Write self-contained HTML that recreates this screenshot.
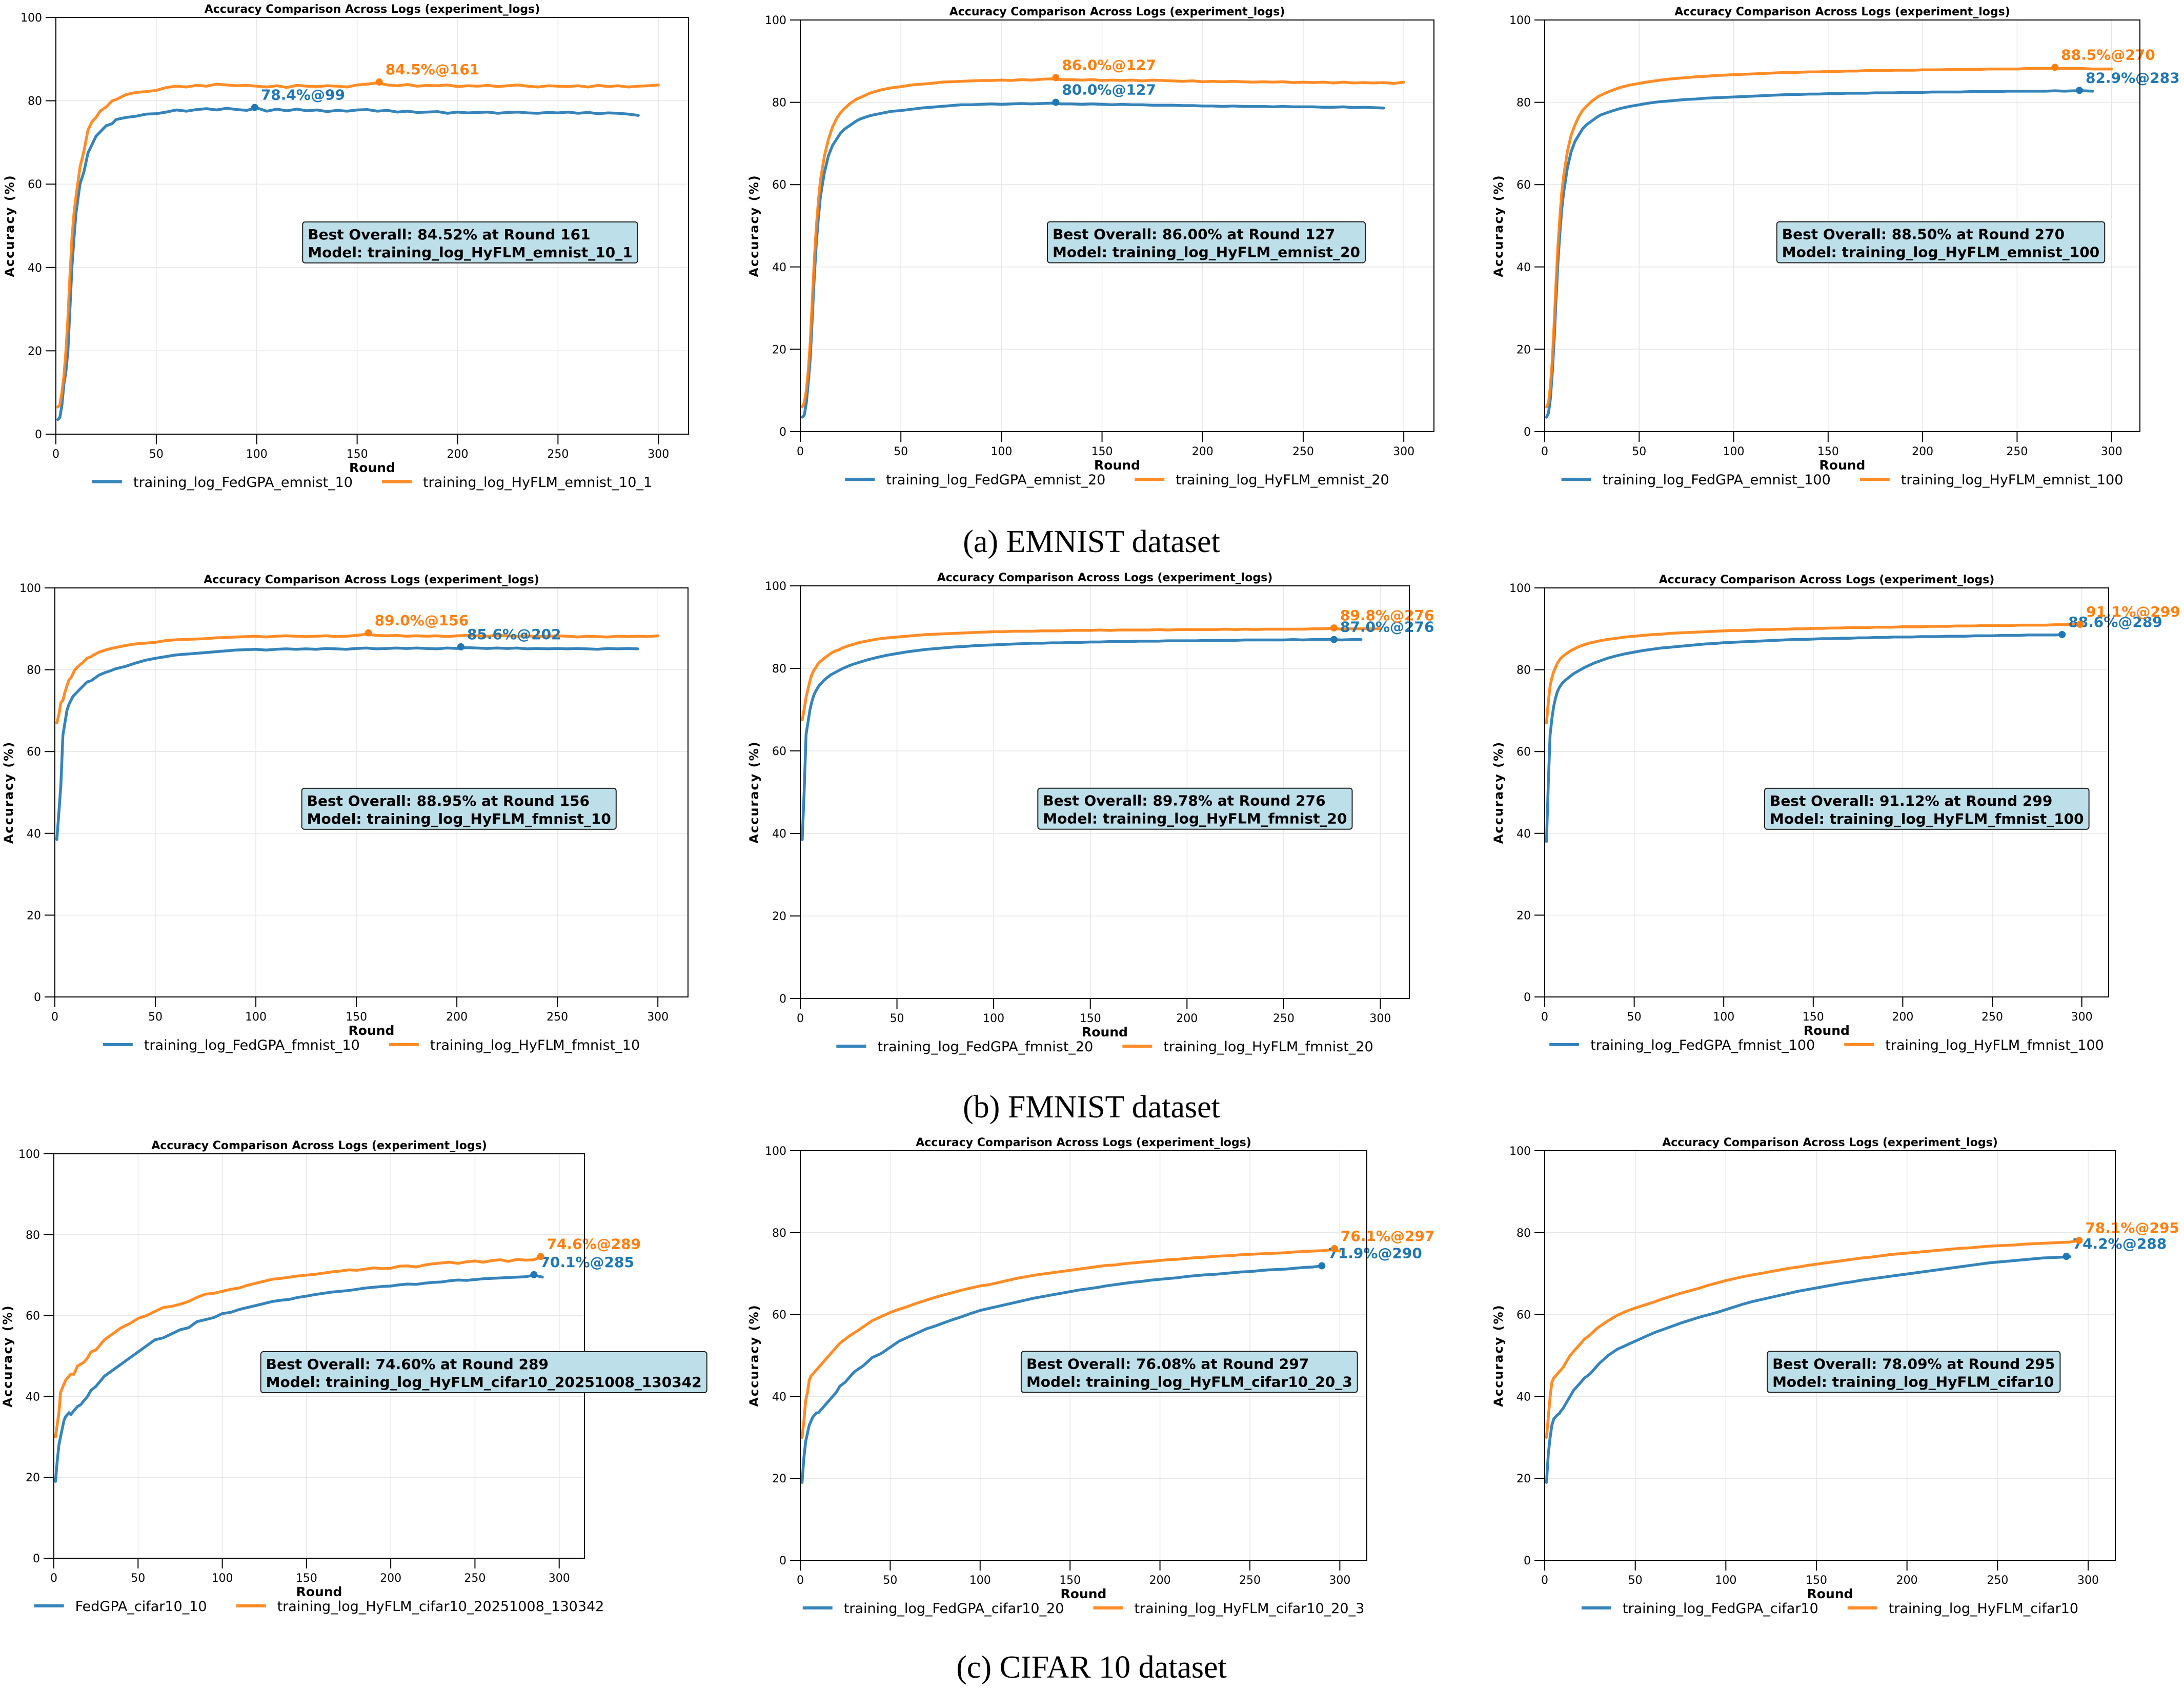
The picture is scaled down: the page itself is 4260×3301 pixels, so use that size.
<!DOCTYPE html>
<html><head><meta charset="utf-8"><style>
html,body{margin:0;padding:0;background:#fff;}
svg{display:block;}
text{font-family:"DejaVu Sans","Liberation Sans",sans-serif;}
</style></head><body>
<svg id="fig" xmlns="http://www.w3.org/2000/svg" width="4260" height="3301" viewBox="0 0 4260 3301">
<rect x="0" y="0" width="4260" height="3301" fill="#fff"/>
<text x="2129" y="1077" text-anchor="middle" font-size="62" style="font-family:'Liberation Serif',serif">(a) EMNIST dataset</text>
<text x="2129" y="2180" text-anchor="middle" font-size="62" style="font-family:'Liberation Serif',serif">(b) FMNIST dataset</text>
<text x="2129" y="3273" text-anchor="middle" font-size="62" style="font-family:'Liberation Serif',serif">(c) CIFAR 10 dataset</text>
</svg>
<script>
// ===== DATA =====
const rounds=[1,2,3,4,5,6,7,8,9,10,12,14,16,18,20,22,25,28,30,35,40,45,50,55,60,65,70,75,80,85,90,95,100,105,110,115,120,125,130,135,140,145,150,155,160,165,170,175,180,185,190,195,200,205,210,215,220,225,230,235,240,245,250,255,260,265,270,275,280,285,290,295,300];
const xTicks=[0,50,100,150,200,250,300];
const yTicks=[0,20,40,60,80,100];

const emnist10Blue=[3.5,4,7,12,15,20,30,40,47,53,60,63,67.5,69.5,71.5,72.5,74,74.5,75.5,76,76.3,76.8,76.9,77.3,77.8,77.5,77.9,78.1,77.8,78.2,77.9,77.7,78.3,77.5,78.0,77.6,78.0,77.6,77.8,77.4,77.7,77.5,77.8,77.9,77.5,77.7,77.3,77.5,77.2,77.3,77.4,77.0,77.3,77.1,77.2,77.3,77.0,77.2,77.3,77.1,77.0,77.2,77.1,77.3,77.0,77.2,76.9,77.1,77.0,76.8,76.5];
const emnist10Orange=[6.5,7,10,14,20,28,38,47,53,57,64,68,73,75,76,77.5,78.5,80,80.3,81.5,82,82.2,82.5,83.2,83.5,83.3,83.7,83.5,84.0,83.8,83.6,83.7,83.5,83.3,83.6,83.2,83.7,83.5,83.4,83.6,83.5,83.3,83.8,84.0,84.3,83.8,83.6,83.9,83.5,83.7,83.6,83.8,83.4,83.6,83.5,83.7,83.4,83.6,83.8,83.5,83.3,83.6,83.5,83.4,83.6,83.3,83.7,83.4,83.6,83.3,83.5,83.6,83.8];
const emnist20Blue=[3.5,4,7,12,18,28,38,46,52,57,63,67,69.5,71,72.5,73.5,74.5,75.5,76,76.8,77.3,77.8,78.0,78.3,78.6,78.8,79.0,79.2,79.4,79.4,79.5,79.6,79.5,79.6,79.7,79.6,79.7,79.8,79.6,79.6,79.5,79.6,79.5,79.4,79.5,79.4,79.4,79.3,79.3,79.3,79.2,79.2,79.1,79.1,79.0,79.1,79.0,79.0,79.0,78.9,79.0,78.9,78.9,78.9,78.8,78.8,78.9,78.7,78.8,78.7,78.6];
const emnist20Orange=[6,7,10,15,22,32,42,50,56,61,67,71,74,76,77.5,78.5,79.8,80.8,81.2,82.3,83,83.5,83.8,84.2,84.4,84.6,84.9,85.0,85.1,85.2,85.3,85.3,85.4,85.3,85.5,85.4,85.6,85.7,85.5,85.5,85.4,85.5,85.3,85.4,85.3,85.4,85.2,85.4,85.3,85.2,85.1,85.2,85.0,85.1,85.0,85.1,85.0,84.9,85.0,84.9,85.0,84.8,84.9,84.8,84.9,84.7,84.9,84.7,84.8,84.7,84.8,84.6,84.9];
const emnist100Blue=[3.5,4.5,8,14,22,32,41,48,54,58,64,68,70.5,72,73.5,74.5,75.5,76.5,77,77.8,78.5,79,79.4,79.8,80.1,80.3,80.5,80.7,80.8,81.0,81.1,81.2,81.3,81.4,81.5,81.6,81.7,81.8,81.9,81.9,82.0,82.0,82.1,82.1,82.2,82.2,82.2,82.3,82.3,82.3,82.4,82.4,82.4,82.5,82.5,82.5,82.5,82.6,82.6,82.6,82.6,82.7,82.7,82.7,82.7,82.7,82.8,82.7,82.8,82.8,82.7];
const emnist100Orange=[6,7,11,17,26,36,45,52,58,62,68,72,74.5,76.5,78,79,80.3,81.3,81.8,82.8,83.6,84.2,84.6,85.0,85.3,85.6,85.8,86.0,86.2,86.3,86.5,86.6,86.7,86.8,86.9,87.0,87.1,87.2,87.2,87.3,87.4,87.4,87.5,87.5,87.6,87.6,87.7,87.7,87.7,87.8,87.8,87.8,87.9,87.9,87.9,88.0,88.0,88.0,88.0,88.1,88.1,88.1,88.1,88.2,88.2,88.2,88.3,88.2,88.2,88.2,88.1,88.1,88.1];
const fmnist10Blue=[38.5,45,52,64,67,70,71.5,72.5,73.5,74,75,76,77,77.3,78,78.7,79.3,79.8,80.2,80.8,81.6,82.3,82.8,83.2,83.6,83.8,84.0,84.2,84.4,84.6,84.8,84.9,85.0,84.8,85.0,85.1,85.0,85.1,85.0,85.2,85.1,85.0,85.2,85.3,85.1,85.2,85.3,85.2,85.3,85.2,85.1,85.3,85.2,85.4,85.3,85.2,85.3,85.2,85.3,85.1,85.2,85.1,85.2,85.1,85.2,85.1,85.0,85.2,85.1,85.2,85.1];
const fmnist10Orange=[67,69,72,72.5,74.5,76,77.5,78,79,80,81,81.8,82.8,83.2,83.8,84.3,84.8,85.2,85.4,85.9,86.3,86.5,86.7,87.1,87.3,87.4,87.5,87.6,87.8,87.9,88.0,88.1,88.2,88.0,88.2,88.3,88.2,88.1,88.2,88.3,88.1,88.2,88.4,88.7,88.4,88.3,88.4,88.2,88.3,88.2,88.3,88.1,88.3,88.4,88.3,88.2,88.4,88.3,88.2,88.3,88.1,88.2,88.3,88.2,88.0,88.2,88.1,88.0,88.2,88.1,88.2,88.1,88.3];
const fmnist20Blue=[38.5,50,64,67,70,72,73.5,74.5,75.3,76,77,77.8,78.5,79,79.5,80,80.6,81.1,81.4,82.1,82.7,83.2,83.6,84.0,84.3,84.6,84.8,85.0,85.2,85.3,85.5,85.6,85.7,85.8,85.9,86.0,86.1,86.1,86.2,86.2,86.3,86.3,86.4,86.4,86.5,86.5,86.5,86.6,86.6,86.6,86.7,86.7,86.7,86.7,86.8,86.8,86.8,86.8,86.9,86.9,86.9,86.9,86.9,87.0,86.9,87.0,87.0,87.0,86.9,87.0,87.0];
const fmnist20Orange=[67.5,70,73,75,77,78.5,79.5,80.2,81,81.5,82.3,83,83.7,84.2,84.5,85,85.5,85.9,86.2,86.7,87.1,87.4,87.6,87.8,88.0,88.2,88.3,88.4,88.5,88.6,88.7,88.8,88.9,88.9,89.0,89.0,89.0,89.1,89.1,89.1,89.2,89.2,89.2,89.3,89.2,89.3,89.3,89.3,89.3,89.4,89.3,89.4,89.4,89.4,89.4,89.4,89.5,89.4,89.5,89.4,89.5,89.5,89.5,89.5,89.5,89.6,89.6,89.7,89.5,89.6,89.6,89.6,89.6];
const fmnist100Blue=[38,52,64,68,71,73,74.5,75.5,76.2,76.8,77.6,78.3,79,79.5,80,80.5,81.1,81.7,82.0,82.8,83.4,83.9,84.3,84.7,85.0,85.3,85.5,85.7,85.9,86.1,86.3,86.4,86.6,86.7,86.8,86.9,87.0,87.1,87.2,87.3,87.4,87.4,87.5,87.6,87.6,87.7,87.7,87.8,87.8,87.9,87.9,88.0,88.0,88.0,88.1,88.1,88.1,88.2,88.2,88.2,88.3,88.3,88.3,88.4,88.4,88.4,88.5,88.5,88.5,88.5,88.6];
const fmnist100Orange=[67,72,76,78,79.5,80.5,81.5,82.2,82.8,83.2,83.9,84.5,85,85.4,85.8,86.1,86.5,86.8,87.0,87.4,87.7,88.0,88.2,88.4,88.6,88.7,88.9,89.0,89.1,89.2,89.3,89.4,89.5,89.6,89.6,89.7,89.8,89.8,89.9,89.9,90.0,90.0,90.1,90.1,90.2,90.2,90.3,90.3,90.3,90.4,90.4,90.4,90.5,90.5,90.5,90.6,90.6,90.6,90.7,90.7,90.7,90.8,90.8,90.8,90.8,90.9,90.9,90.9,90.9,91.0,91.0,91.0,91.1];
const cifar10Blue=[19,24,28,30,32,34,35,35.5,36,35.5,36.5,37.5,38,39,40,41.5,42.5,44,45,46.5,48,49.5,51,52.5,54,54.5,55.5,56.5,57,58.5,59,59.5,60.5,60.8,61.5,62,62.5,63,63.5,63.8,64,64.5,64.8,65.2,65.5,65.8,66,66.2,66.5,66.8,67,67.2,67.3,67.6,67.8,67.7,68,68.2,68.3,68.6,68.8,68.7,68.9,69.1,69.2,69.3,69.4,69.5,69.6,70.0,69.5];
const cifar10Orange=[30,33,36,41,42,43,44,44.5,45,45.5,45.5,47.5,48,48.5,49.5,51,51.5,53,54,55.5,57,58,59.3,60,61,62,62.3,62.8,63.5,64.5,65.3,65.5,66.0,66.5,66.8,67.5,68,68.5,69,69.2,69.5,69.8,70,70.2,70.5,70.8,71,71.3,71.2,71.5,71.8,71.6,71.7,72.2,72.3,72.0,72.5,72.8,73.0,73.2,72.9,73.3,73.5,73.2,73.6,73.8,73.4,73.9,73.7,73.8,74.6];
const cifar20Blue=[19,25,29,31,33,34,35,35.5,36,36,37,38,39,40,41,42.5,43.5,45,46,47.5,49.5,50.5,52,53.5,54.5,55.5,56.5,57.2,58,58.8,59.5,60.3,61,61.5,62,62.5,63,63.5,64,64.4,64.8,65.2,65.6,66,66.3,66.6,67,67.3,67.6,67.9,68.1,68.4,68.6,68.8,69.0,69.3,69.5,69.7,69.8,70.0,70.2,70.4,70.5,70.7,70.9,71.0,71.1,71.3,71.5,71.6,71.9];
const cifar20Orange=[30,34,39,41,44,45,45.5,46,46.5,47,48,49,50,51,52,53,54,55,55.5,57,58.5,59.5,60.5,61.3,62,62.8,63.5,64.2,64.8,65.4,66,66.5,67,67.3,67.8,68.3,68.8,69.2,69.6,69.9,70.2,70.5,70.8,71.1,71.4,71.7,72.0,72.1,72.4,72.6,72.8,73.0,73.2,73.4,73.5,73.7,73.9,74.0,74.2,74.3,74.4,74.6,74.7,74.8,74.9,75.0,75.1,75.3,75.4,75.5,75.6,75.8,75.5];
const cifar100Blue=[19,26,30,33,34.5,35,35.5,35.8,36.5,37,38.5,40,41.5,42.5,43.5,44.5,45.5,47,48,50,51.5,52.5,53.5,54.5,55.5,56.3,57.1,57.9,58.6,59.3,59.9,60.5,61.2,61.9,62.6,63.2,63.7,64.2,64.7,65.2,65.7,66.1,66.5,66.9,67.3,67.7,68.0,68.4,68.7,69.0,69.3,69.6,69.9,70.2,70.5,70.8,71.1,71.4,71.7,72.0,72.3,72.6,72.8,73.0,73.2,73.4,73.6,73.8,73.9,74.0,74.1];
const cifar100Orange=[30,35,40,43.5,44.5,45,45.5,46,46.5,47,48.5,50,51,52,53,54,55,56.3,57,58.5,59.8,60.8,61.6,62.3,63,63.8,64.5,65.2,65.8,66.4,67.1,67.7,68.3,68.8,69.3,69.7,70.1,70.5,70.9,71.3,71.6,72.0,72.3,72.6,72.9,73.2,73.5,73.8,74.0,74.3,74.6,74.8,75.0,75.2,75.4,75.6,75.8,76.0,76.2,76.3,76.5,76.7,76.8,76.9,77.0,77.2,77.3,77.4,77.5,77.6,77.7,78.1];

const bestRoundsBlue=[99,127,283,202,276,289,285,290,288];
const bestValsBlue=[78.4,80.0,82.9,85.6,87.0,88.6,70.1,71.9,74.2];
const bestRoundsOrange=[161,127,270,156,276,299,289,297,295];
const bestValsOrange=[84.5,86.0,88.5,89.0,89.8,91.1,74.6,76.1,78.1];
const bestOverallText=["84.52% at Round 161","86.00% at Round 127","88.50% at Round 270","88.95% at Round 156","89.78% at Round 276","91.12% at Round 299","74.60% at Round 289","76.08% at Round 297","78.09% at Round 295"];
const bestModelText=["training_log_HyFLM_emnist_10_1","training_log_HyFLM_emnist_20","training_log_HyFLM_emnist_100","training_log_HyFLM_fmnist_10","training_log_HyFLM_fmnist_20","training_log_HyFLM_fmnist_100","training_log_HyFLM_cifar10_20251008_130342","training_log_HyFLM_cifar10_20_3","training_log_HyFLM_cifar10"];
const legendBlue=["training_log_FedGPA_emnist_10","training_log_FedGPA_emnist_20","training_log_FedGPA_emnist_100","training_log_FedGPA_fmnist_10","training_log_FedGPA_fmnist_20","training_log_FedGPA_fmnist_100","FedGPA_cifar10_10","training_log_FedGPA_cifar10_20","training_log_FedGPA_cifar10"];
const legendOrange=["training_log_HyFLM_emnist_10_1","training_log_HyFLM_emnist_20","training_log_HyFLM_emnist_100","training_log_HyFLM_fmnist_10","training_log_HyFLM_fmnist_20","training_log_HyFLM_fmnist_100","training_log_HyFLM_cifar10_20251008_130342","training_log_HyFLM_cifar10_20_3","training_log_HyFLM_cifar10"];
const seriesBlue=[emnist10Blue,emnist20Blue,emnist100Blue,fmnist10Blue,fmnist20Blue,fmnist100Blue,cifar10Blue,cifar20Blue,cifar100Blue];
const seriesOrange=[emnist10Orange,emnist20Orange,emnist100Orange,fmnist10Orange,fmnist20Orange,fmnist100Orange,cifar10Orange,cifar20Orange,cifar100Orange];

// ===== LAYOUT (pixel boxes of each axes) =====
const layout=[
 {L:109,R:1343,T:34,B:847},{L:1561,R:2797,T:39,B:842},{L:3013,R:4174,T:39,B:842},
 {L:107,R:1342,T:1147,B:1945},{L:1561,R:2749,T:1143,B:1948},{L:3013,R:4113,T:1147,B:1945},
 {L:105,R:1140,T:2251,B:3040},{L:1561,R:2666,T:2245,B:3044},{L:3013,R:4126,T:2245,B:3044}
];
const XMAX=315, BLUE="#1f77b4", ORANGE="#ff7f0e";
const svg=document.getElementById('fig');
const NS="http://www.w3.org/2000/svg";
function mk(tag,attrs,parent){const e=document.createElementNS(NS,tag);for(const k in attrs)e.setAttribute(k,attrs[k]);(parent||svg).appendChild(e);return e;}

layout.forEach((p,i)=>{
  const g=mk('g',{});
  
  
  const sx=r=>p.L+r*(p.R-p.L)/XMAX;
  const sy=v=>p.B-v*(p.B-p.T)/100;
  xTicks.forEach(t=>{const l=mk('line',{x1:sx(t),x2:sx(t),y1:p.T,y2:p.B,stroke:'#e6e6e6','stroke-width':1.5},g);
    
    });
  yTicks.forEach(t=>{const l=mk('line',{x1:p.L,x2:p.R,y1:sy(t),y2:sy(t),stroke:'#e6e6e6','stroke-width':1.5},g);
    
    });
  [[seriesBlue[i],BLUE,'fedgpa-line'],[seriesOrange[i],ORANGE,'hyflm-line']].forEach(([vals,c,nm])=>{
    const pts=vals.map((v,k)=>sx(rounds[k]).toFixed(1)+','+sy(v).toFixed(1)).join(' ');
    const pl=mk('polyline',{points:pts,fill:'none',stroke:c,'stroke-width':5.5,'stroke-opacity':0.9,'stroke-linejoin':'round','stroke-linecap':'round'},g);
    
    
  });
  [[bestRoundsBlue[i],bestValsBlue[i],BLUE,'fedgpa'],[bestRoundsOrange[i],bestValsOrange[i],ORANGE,'hyflm']].forEach(([r,v,c,nm])=>{
    const cx=sx(r), cy=sy(v);
    const d=mk('circle',{cx:cx,cy:cy,r:7,fill:c},g);
    
    
    const t=mk('text',{x:cx+12,y:cy-15,fill:c,'font-size':28,'font-weight':'bold'},g);
    t.textContent=v.toFixed(1)+'%@'+r;
    
    
  });
  const fr=mk('rect',{x:p.L,y:p.T,width:p.R-p.L,height:p.B-p.T,fill:'none',stroke:'#000','stroke-width':2},g);
  
  
  xTicks.forEach(t=>{
    mk('line',{x1:sx(t),x2:sx(t),y1:p.B,y2:p.B+20,stroke:'#000','stroke-width':2},g);
    const tx=mk('text',{x:sx(t),y:p.B+46,'text-anchor':'middle','font-size':22},g);
    tx.textContent=t;
    
    
  });
  yTicks.forEach(t=>{
    mk('line',{x1:p.L-20,x2:p.L,y1:sy(t),y2:sy(t),stroke:'#000','stroke-width':2},g);
    const tx=mk('text',{x:p.L-27,y:sy(t)+8,'text-anchor':'end','font-size':22},g);
    tx.textContent=t;
    
    
  });
  const ti=mk('text',{x:(p.L+p.R)/2,y:p.T-9,'text-anchor':'middle','font-size':22,'font-weight':'bold'},g);
  ti.textContent='Accuracy Comparison Across Logs (experiment_logs)';
  
  
  const xl=mk('text',{x:(p.L+p.R)/2,y:p.B+74,'text-anchor':'middle','font-size':25,'font-weight':'bold'},g);
  xl.textContent='Round';
  
  
  const ymid=(p.T+p.B)/2, yx=p.L-82;
  const yl=mk('text',{x:yx,y:ymid,'text-anchor':'middle','font-size':24,'font-weight':'bold','letter-spacing':2,transform:`rotate(-90 ${yx} ${ymid})`},g);
  yl.textContent='Accuracy (%)';
  
  
  const bx=p.L+0.39*(p.R-p.L), bcy=p.B-0.46*(p.B-p.T);
  const box=mk('rect',{x:bx,y:bcy-40,width:100,height:80,rx:5,fill:'#bddfea',stroke:'#222','stroke-width':2},g);
  
  
  const t1=mk('text',{x:bx+10,y:bcy-6,'font-size':28,'font-weight':'bold'},g);
  t1.textContent='Best Overall: '+bestOverallText[i];
  
  
  const t2=mk('text',{x:bx+10,y:bcy+29,'font-size':28,'font-weight':'bold'},g);
  t2.textContent='Model: '+bestModelText[i];
  
  
  const w=Math.max(t1.getComputedTextLength(),t2.getComputedTextLength());
  box.setAttribute('width',w+20);
  const lg=mk('g',{},g);
  
  
  const ly=p.B+93;
  const la=mk('text',{x:0,y:ly+10,'font-size':27},lg);
  la.textContent=legendBlue[i];
  
  
  const lb=mk('text',{x:0,y:ly+10,'font-size':27},lg);
  lb.textContent=legendOrange[i];
  
  
  const wa=la.getComputedTextLength(), wb=lb.getComputedTextLength();
  const total=58+22+wa+57+58+22+wb;
  let x0=(p.L+p.R)/2-total/2;
  mk('line',{x1:x0,x2:x0+58,y1:ly,y2:ly,stroke:BLUE,'stroke-width':6,'stroke-opacity':0.9},lg);
  la.setAttribute('x',x0+80);
  const x1=x0+80+wa+57;
  mk('line',{x1:x1,x2:x1+58,y1:ly,y2:ly,stroke:ORANGE,'stroke-width':6,'stroke-opacity':0.9},lg);
  lb.setAttribute('x',x1+80);
});
</script>
</body></html>
